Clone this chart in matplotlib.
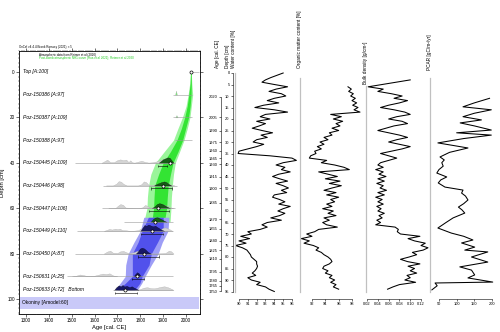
import matplotlib
matplotlib.use("Agg")
import matplotlib.pyplot as plt
from matplotlib.ticker import MultipleLocator

plt.rcParams["font.family"] = ["Liberation Sans", "DejaVu Sans"]

W, H = 500, 332
fig = plt.figure(figsize=(W / 100, H / 100), dpi=100)


def px_axes(x0, y0, x1, y1):
    # axes placed in pixel coordinates of the 500x332 canvas (y from top)
    return fig.add_axes([x0 / W, 1 - y1 / H, (x1 - x0) / W, (y1 - y0) / H])


# ---------------- OxCal age-depth model (left) ----------------
sample_labels = ["Top [A:100]", "Poz-150386 [A:97]", "Poz-150387 [A:109]", "Poz-150388 [A:97]",
                 "Poz-150445 [A:109]", "Poz-150446 [A:98]", "Poz-150447 [A:106]", "",
                 "Poz-150449 [A:110]", "Poz-150450 [A:87]", "Poz-150631 [A:25]",
                 "Poz-150633 [A:72]   Bottom"]
sample_depths = [0, 10, 20, 30, 40, 50, 60, 66, 70, 80, 90, 96]
base_start = [2021, 1943, 1943, 1950, 1514, 1638, 1633, 1730, 1523, 1514, 1479, 1680]
base_end = [2058, 2026, 2026, 2026, 1952, 1961, 1952, 1943, 1943, 1943, 1943, 1943]
mean_age = [2021, None, None, None, 1930, 1900, 1878, 1865, 1850, 1814, 1785, 1734]
range_lo = [None, None, None, None, 1878, 1847, 1840, None, 1805, 1790, 1765, 1690]
range_hi = [None, None, None, None, 1917, 1939, 1925, None, 1900, 1880, 1815, 1785]

lik_years = [
    [],
    [1952, 1956, 1960],
    [1953, 1958, 1963],
    [],
    [1630, 1645, 1655, 1668, 1685, 1700, 1712, 1725, 1738, 1748, 1756, 1764, 1775, 1790, 1805,
     1820, 1835, 1850, 1870, 1890, 1905, 1920, 1935, 1950],
    [1650, 1680, 1695, 1705, 1715, 1725, 1740, 1790, 1805, 1815, 1825, 1835, 1850, 1870, 1885,
     1900, 1915, 1930, 1950],
    [1660, 1690, 1700, 1712, 1724, 1735, 1790, 1810, 1820, 1830, 1840, 1860, 1880, 1895, 1910,
     1925, 1945],
    [],
    [1640, 1655, 1665, 1675, 1690, 1700, 1710, 1720, 1735, 1750, 1770, 1790, 1800, 1815, 1830,
     1845, 1870, 1890, 1900, 1910, 1920, 1930, 1940],
    [1640, 1655, 1668, 1680, 1700, 1712, 1725, 1738, 1750, 1770, 1785, 1800, 1815, 1840, 1880,
     1910, 1925, 1935, 1945],
    [1500, 1520, 1535, 1548, 1560, 1580, 1600, 1620, 1635, 1650, 1665, 1680, 1700],
    [1780, 1800, 1815, 1830, 1845, 1860, 1875, 1890, 1905, 1920, 1935, 1945],
]
lik_heights = [
    [],
    [0, 1.8, 0],
    [0, 1.0, 0],
    [],
    [0, 0.8, 1.4, 0.3, 0.3, 1.2, 1.5, 1.2, 1.4, 0.3, 1.1, 0.2, 0.1, 0.5, 0.9, 0.4, 0.1, 0.2, 0.6,
     1.3, 1.8, 1.0, 0.5, 0],
    [0, 0, 0.8, 1.9, 1.7, 0.8, 0, 0, 0.6, 1.8, 1.5, 0.4, 0.2, 0.5, 1.0, 1.6, 1.2, 0.5, 0],
    [0, 0, 0.9, 1.8, 1.5, 0.3, 0, 0.4, 1.4, 1.1, 0.3, 0.4, 1.2, 1.7, 1.3, 0.6, 0],
    [],
    [0, 0.5, 0.9, 0.6, 1.0, 0.8, 1.0, 0.4, 0.3, 0.1, 0.1, 0.3, 0.9, 1.2, 0.8, 0.3, 0.3, 0.8, 1.4,
     1.5, 1.1, 0.6, 0],
    [0, 0.9, 1.3, 0.4, 0.3, 1.0, 1.2, 0.6, 0.2, 0.6, 1.2, 1.0, 0.3, 0.1, 0.1, 0.3, 1.3, 1.0, 0],
    [0, 0.3, 0.8, 0.6, 0.3, 0.2, 0.3, 0.8, 1.2, 1.0, 1.3, 0.4, 0],
    [0, 0.4, 1.0, 1.2, 0.8, 0.7, 1.0, 1.4, 1.6, 1.2, 0.5, 0],
]
post_years = [
    [], [], [], [],
    [1880, 1890, 1900, 1910, 1920, 1928, 1936, 1945],
    [1860, 1872, 1885, 1895, 1905, 1915, 1925, 1935],
    [1850, 1862, 1872, 1882, 1892, 1905, 1918, 1930],
    [1845, 1855, 1865, 1875, 1885, 1895, 1905, 1915],
    [1800, 1810, 1818, 1826, 1835, 1845, 1855, 1865, 1875, 1885, 1895, 1905],
    [1780, 1790, 1798, 1806, 1814, 1822, 1832, 1845],
    [1770, 1778, 1786, 1794, 1802],
    [1685, 1695, 1705, 1715, 1722, 1730, 1740, 1752, 1762, 1772, 1782, 1792],
]
post_heights = [
    [], [], [], [],
    [0, 0.8, 1.6, 2.0, 2.4, 2.2, 1.2, 0],
    [0, 0.7, 1.2, 1.6, 1.8, 1.4, 0.6, 0],
    [0, 0.8, 1.8, 2.2, 2.0, 1.4, 0.6, 0],
    [0, 1.2, 1.9, 2.0, 1.5, 1.0, 0.4, 0],
    [0, 1.5, 2.6, 2.2, 2.8, 2.4, 2.0, 2.3, 1.6, 1.0, 0.4, 0],
    [0, 1.0, 2.2, 2.6, 2.4, 1.8, 0.8, 0],
    [0, 1.0, 1.8, 1.2, 0],
    [0, 1.2, 2.0, 1.6, 2.2, 1.5, 1.8, 1.2, 1.6, 1.0, 0.5, 0],
]

green_depth = [0, 5, 10, 15, 20, 25, 30, 35, 40, 45, 50, 55, 60, 66]
green_lo95 = [2019, 2016, 2009, 2000, 1984, 1964, 1945, 1905, 1866, 1846, 1836, 1831, 1829, 1815]
green_hi95 = [2023, 2025, 2029, 2023, 2017, 2005, 1991, 1972, 1953, 1945, 1940, 1936, 1934, 1930]
green_lo68 = [2020, 2018, 2012, 2005, 1994, 1979, 1960, 1932, 1900, 1880, 1863, 1860, 1858, 1850]
green_hi68 = [2022, 2023, 2022, 2018, 2011, 1998, 1985, 1965, 1943, 1932, 1922, 1918, 1915, 1905]
blue_depth = [64, 70, 75, 80, 85, 90, 93, 96]
blue_lo95 = [1815, 1800, 1772, 1747, 1736, 1734, 1712, 1690]
blue_hi95 = [1925, 1921, 1896, 1878, 1848, 1821, 1806, 1787]
blue_lo68 = [1835, 1808, 1790, 1765, 1765, 1765, 1735, 1700]
blue_hi68 = [1900, 1900, 1875, 1848, 1838, 1808, 1798, 1775]

model_name = "Okoniny [Amodel:60]"
model_band = (99.0, 104.5)

ax = px_axes(19, 51, 200, 314)
ax.set_xlim(1269, 2061)
ax.set_ylim(106.6, -9.25)

ax.fill_betweenx(green_depth, green_lo95, green_hi95, color="#9af59a", lw=0)
ax.fill_betweenx(green_depth, green_lo68, green_hi68, color="#33e433", lw=0)
ax.fill_betweenx(blue_depth, blue_lo95, blue_hi95, color="#9e9ef6", lw=0)
ax.fill_betweenx(blue_depth, blue_lo68, blue_hi68, color="#5151ec", lw=0)
ax.fill_between([1274, 2056], model_band[0], model_band[1], color="#c9c9f8", lw=0)
ax.text(1280, sum(model_band) / 2, model_name, fontsize=3.5, va="center", ha="left")

for i, d in enumerate(sample_depths):
    ax.hlines(d, base_start[i], base_end[i], color="#9a9a9a", lw=0.4)
    if lik_years[i]:
        lcol = "#7be87b" if d < 35 else "#d4d4d4"
        ax.fill_between(lik_years[i], d, [d - h for h in lik_heights[i]],
                        color=lcol, ec="#a8a8a8", lw=0.2)
    if post_years[i]:
        pcol = "#155c15" if d < 67 else "#181866"
        ax.fill_between(post_years[i], d, [d - h for h in post_heights[i]],
                        color=pcol, lw=0.2, ec="black")
    if range_lo[i] is not None:
        ax.hlines(d + 1.3, range_lo[i], range_hi[i], color="black", lw=0.4)
        ax.vlines([range_lo[i], range_hi[i]], d + 0.8, d + 1.8, color="black", lw=0.4)
    if mean_age[i] is not None:
        ax.plot(mean_age[i], d, "o", ms=2.2, mfc="white", mec="black", mew=0.5)
    if sample_labels[i]:
        ax.text(1286, d, sample_labels[i], fontsize=3.6, style="italic", va="center", ha="left")

ax.text(1355, -7.5, "Atmospheric data from Reimer et al (2020)", fontsize=2.2, va="center")
ax.text(1355, -6.2, "Post-bomb atmospheric NH1 curve (Hua et al 2021); Reimer et al 2020",
        fontsize=2.2, va="center", color="#22cc22")
fig.text(19 / W, 1 - 49 / H, "OxCal v4.4.4 Bronk Ramsey (2021); r:5", fontsize=2.2, va="bottom")

ax.set_xticks(range(1300, 2001, 100))
ax.set_yticks(range(0, 101, 20))
ax.xaxis.set_minor_locator(MultipleLocator(10))
ax.yaxis.set_minor_locator(MultipleLocator(2))
ax.tick_params(which="major", length=2, width=0.4, labelsize=3.3, pad=1)
ax.tick_params(which="minor", length=1, width=0.3)
ax.tick_params(which="both", top=True, right=True)
for s in ax.spines.values():
    s.set_linewidth(0.6)
ax.set_xlabel("Age [cal. CE]", fontsize=4.2, labelpad=1.5)
ax.set_ylabel("Depth [cm]", fontsize=4.2, labelpad=2)

# ---------------- stratigraphic diagram (right) ----------------
water_depth = list(range(0, 96))
water = [95.0, 94.3, 93.6, 93.0, 92.6, 94.0, 95.5, 94.2, 93.4, 94.8,
         95.3, 94.0, 93.2, 94.5, 92.8, 91.8, 94.0, 95.5, 93.0, 92.4,
         93.5, 92.0, 93.0, 92.3, 91.5, 92.6, 93.8, 92.5, 93.2, 92.0,
         91.6, 92.8, 92.0, 91.0, 90.0, 89.9, 93.5, 96.0, 96.5, 95.0,
         94.2, 95.2, 94.8, 95.8, 94.5, 93.8, 94.6, 95.5, 94.2, 95.0,
         95.6, 94.8, 95.4, 94.0, 93.8, 94.6, 95.2, 94.5, 95.8, 95.0,
         94.4, 95.2, 94.6, 93.6, 94.8, 93.2, 92.6, 93.2, 92.4, 91.0,
         91.4, 90.2, 91.2, 90.0, 90.8, 89.6, 90.4, 90.9, 91.1, 91.3,
         91.4, 91.7, 92.0, 92.0, 92.1, 92.0, 91.8, 91.5, 91.9, 91.0,
         91.4, 92.4, 92.0, 93.0, 93.4, 94.0]

om_depth = list(range(6, 95))
om = [97.4, 97.9, 97.5, 98.2, 97.8, 98.5, 98.0, 98.7, 98.1, 98.9,
      98.3, 99.2, 94.8, 96.4, 95.2, 96.6, 95.6, 96.2, 95.0, 96.0,
      94.6, 95.0, 93.8, 94.4, 93.2, 93.8, 92.8, 93.4, 92.4, 92.6,
      91.8, 91.6, 94.2, 93.4, 95.4, 96.8, 97.6, 93.0, 94.4, 95.8,
      94.0, 96.2, 94.6, 96.4, 95.0, 93.8, 95.6, 94.2, 96.0, 94.8,
      95.4, 94.2, 95.0, 93.6, 95.2, 94.4, 95.6, 93.8, 94.6, 93.6,
      94.2, 95.8, 93.0, 92.4, 91.2, 92.0, 90.4, 91.6, 90.8, 92.2,
      93.0, 92.6, 93.4, 93.8, 94.4, 94.8, 95.0, 94.6, 93.8, 93.6,
      94.4, 94.0, 95.0, 94.6, 95.4, 94.8, 95.6, 95.2, 96.0]

bd_depth = [3] + list(range(6, 95))
bd = [0.100, 0.022, 0.050, 0.040, 0.065, 0.085, 0.070, 0.095, 0.080, 0.060,
      0.045, 0.070, 0.090, 0.100, 0.075, 0.060, 0.085, 0.095, 0.070, 0.055,
      0.040, 0.060, 0.080, 0.095, 0.075, 0.060, 0.080, 0.100, 0.085, 0.065,
      0.045, 0.060, 0.075, 0.060, 0.045, 0.040, 0.050, 0.036, 0.050, 0.042,
      0.055, 0.040, 0.052, 0.038, 0.050, 0.044, 0.056, 0.040, 0.052, 0.036,
      0.048, 0.040, 0.050, 0.038, 0.046, 0.040, 0.052, 0.042, 0.048, 0.038,
      0.045, 0.036, 0.072, 0.078, 0.076, 0.082, 0.118, 0.096, 0.108, 0.128,
      0.120, 0.133, 0.124, 0.104, 0.112, 0.098, 0.082, 0.095, 0.118, 0.096,
      0.108, 0.100, 0.112, 0.094, 0.100, 0.090, 0.110, 0.080, 0.068, 0.058]

pcar_depth = [11, 13, 14.7, 16, 17.5, 19, 20.4, 21.7, 23, 24.8,
              26, 27, 28.5, 30.4, 31.5, 32.6, 34.5, 36.5, 37.8, 39,
              40.5, 42, 43.5, 45.2, 46.5, 47.8, 49.6, 50.9, 52.2, 53.5,
              55.2, 56.8, 58.3, 59.5, 60.9, 63, 65, 67.4, 69.6, 71,
              72.6, 73.9, 75.7, 77, 77.8, 80, 82.2, 84.3, 85.7, 87.8,
              89.1, 90.9, 91.3, 92.5, 94.3]
pcar = [193, 150, 118, 198, 150, 118, 170, 110, 150, 198,
        100, 198, 120, 47, 90, 132, 80, 53, 65, 58,
        62, 50, 44, 72, 55, 48, 67, 118, 114, 125,
        132, 120, 105, 115, 123, 90, 70, 47, 85, 120,
        146, 114, 151, 123, 188, 142, 188, 109, 142, 151,
        132, 202, 39, 45, 30]

age_labels = [2020, 2005, 1990, 1975, 1960, 1945, 1930, 1915, 1900, 1885,
              1870, 1855, 1840, 1825, 1810, 1795, 1780, 1765, 1750]
age_depths = [10.3, 19.3, 25.2, 30.0, 33.9, 37.0, 39.6, 45.2, 50.0, 56.5,
              63.5, 67.8, 73.0, 77.0, 80.7, 86.5, 90.4, 92.5, 94.8]
depth_ticks = list(range(0, 96, 5))

R_TOP, R_BOT = 72, 299
r_ylim = ((R_BOT - 73) / 2.3, (R_TOP - 73) / 2.3)


def strat_track(x0, x1, xlim, ticks, tlabels, depth, values, spine_top):
    a = px_axes(x0, R_TOP, x1, R_BOT)
    a.patch.set_alpha(0)
    a.set_xlim(*xlim)
    a.set_ylim(*r_ylim)
    a.plot(values, depth, color="black", lw=0.75)
    a.spines["top"].set_visible(False)
    a.spines["right"].set_visible(False)
    a.spines["left"].set_color("#c0c0c0")
    a.spines["left"].set_linewidth(0.9)
    a.spines["left"].set_bounds(95, spine_top)
    a.spines["bottom"].set_bounds(ticks[0], ticks[-1])
    a.spines["bottom"].set_linewidth(0.4)
    a.set_yticks([])
    a.set_xticks(ticks)
    a.set_xticklabels(tlabels)
    a.tick_params(axis="x", length=1.5, width=0.4, pad=1, labelsize=2.9)
    return a


strat_track(235, 298, (89.55, 96.68), [90, 91, 92, 93, 94, 95, 96],
            ["90", "91", "92", "93", "94", "95", "96"], water_depth, water, 0)
strat_track(300, 362, (90.2, 99.5), [92, 94, 96, 98], ["92", "94", "96", "98"],
            om_depth, om, 2)
strat_track(366, 430, (0.018, 0.1367), [0.02, 0.04, 0.06, 0.08, 0.10, 0.12],
            ["0.02", "0.04", "0.06", "0.08", "0.10", "0.12"], bd_depth, bd, 5.5)
strat_track(430, 498, (24.7, 216.9), [50, 100, 150, 200], ["50", "100", "150", "200"],
            pcar_depth, pcar, 2)


def side_axis(x, ticks, tlabels, lo, hi):
    a = px_axes(x, R_TOP, x + 1, R_BOT)
    a.patch.set_alpha(0)
    a.set_ylim(*r_ylim)
    a.set_xticks([])
    for s in ["top", "right", "bottom"]:
        a.spines[s].set_visible(False)
    a.spines["left"].set_bounds(lo, hi)
    a.spines["left"].set_linewidth(0.4)
    a.set_yticks(ticks)
    a.set_yticklabels(tlabels)
    a.tick_params(axis="y", length=1.5, width=0.4, pad=1, labelsize=2.9)
    return a


side_axis(233, depth_ticks, [str(t) for t in depth_ticks], 0, 95)
side_axis(221, age_depths, [str(t) for t in age_labels], age_depths[0], age_depths[-1])

titles = [("Age [cal. CE]", 218, 68), ("Depth [cm]", 227.5, 68), ("Water content [%]", 233, 68),
          ("Organic matter content [%]", 299, 68), ("Bulk density [g/cm³]", 365, 84),
          ("PCAR [gC/m²/yr]", 430, 70)]
for txt, x, yb in titles:
    fig.text(x / W, 1 - yb / H, txt, rotation=90, ha="center", va="bottom", fontsize=3.4)

fig.savefig("out.png", dpi=100)
